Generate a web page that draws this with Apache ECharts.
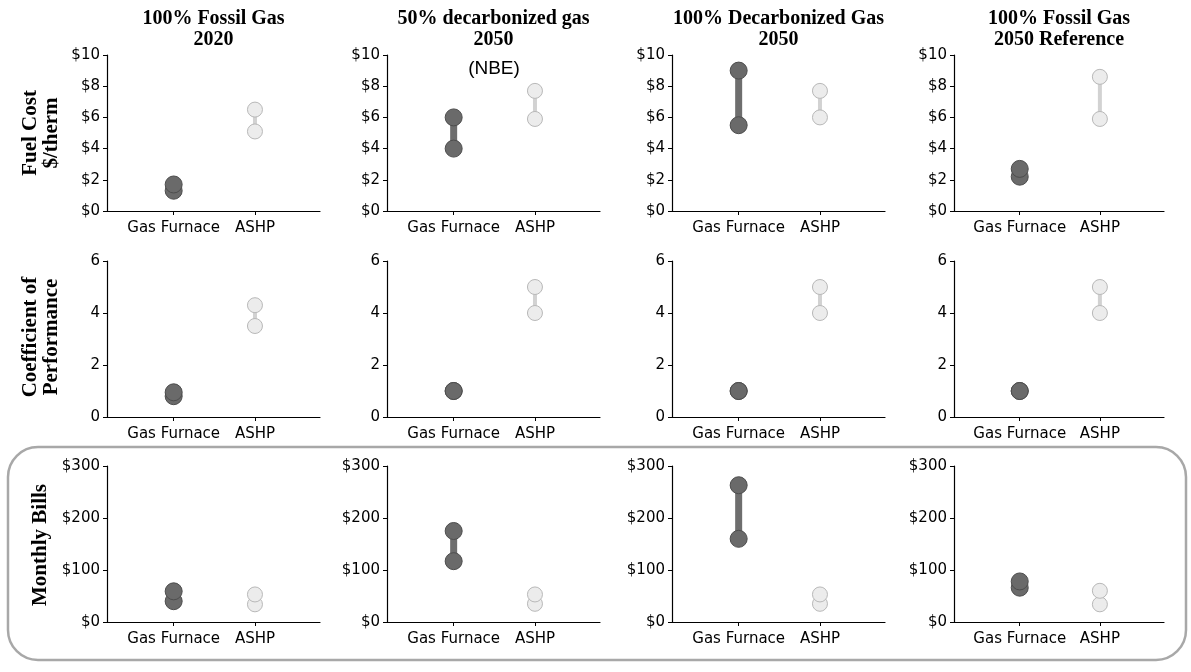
<!DOCTYPE html>
<html>
<head>
<meta charset="utf-8">
<script src="https://cdn.jsdelivr.net/npm/echarts@6/dist/echarts.min.js"></script>
<style>
html,body{margin:0;padding:0;background:#fff;}
#chart{width:1191px;height:672px;}
</style>
</head>
<body>
<div id="chart"></div>
<script>
// ---- data ----
var categories = ['Gas Furnace', 'ASHP'];
var scenarioTitles = ['100% Fossil Gas\n2020', '50% decarbonized gas\n2050', '100% Decarbonized Gas\n2050', '100% Fossil Gas\n2050 Reference'];
var rowLabels = ['Fuel Cost\n$/therm', 'Coefficient of\nPerformance', 'Monthly Bills'];

var fuelGasLow   = [1.3, 4.0, 5.5, 2.2];
var fuelGasHigh  = [1.7, 6.0, 9.0, 2.7];
var fuelAshpLow  = [5.1, 5.9, 6.0, 5.9];
var fuelAshpHigh = [6.5, 7.7, 7.7, 8.6];

var copGasLow   = [0.8, 1.0, 1.0, 1.0];
var copGasHigh  = [0.95, 1.0, 1.0, 1.0];
var copAshpLow  = [3.5, 4.0, 4.0, 4.0];
var copAshpHigh = [4.3, 5.0, 5.0, 5.0];

var billGasLow   = [40, 117, 160, 66];
var billGasHigh  = [59, 175, 263, 78];
var billAshpLow  = [34, 35, 35, 34];
var billAshpHigh = [53, 53, 53, 60];

var yMax = [10, 6, 300];
var yStep = [2, 2, 100];
var yPrefix = ['$', '', '$'];
var xTicks = [0, 1];

// ---- layout ----
var colLeft = [107, 387, 672, 954];
var colWidth = [213, 213, 213, 210];
var rowTop = [55, 261, 466];
var rowHeight = 156;

var rows = [
  [fuelGasLow, fuelGasHigh, fuelAshpLow, fuelAshpHigh],
  [copGasLow, copGasHigh, copAshpLow, copAshpHigh],
  [billGasLow, billGasHigh, billAshpLow, billAshpHigh]
];

var grids = [], xAxes = [], yAxes = [], series = [];
var labelFont = {fontFamily: 'DejaVu Sans', fontSize: 15, color: '#000'};

for (var r = 0; r < 3; r++) {
  for (var c = 0; c < 4; c++) {
    var gi = r * 4 + c;
    grids.push({left: colLeft[c], top: rowTop[r], width: colWidth[c], height: rowHeight, containLabel: false});
    xAxes.push({
      type: 'value', gridIndex: gi, min: -0.82, max: 1.8,
      axisLine: {show: true, onZero: false, lineStyle: {color: '#000', width: 1.2}},
      axisTick: {show: true, length: 4, customValues: xTicks, lineStyle: {color: '#000'}},
      axisLabel: Object.assign({customValues: xTicks, margin: 10, formatter: function (v) { return categories[Math.round(v)]; }}, labelFont),
      splitLine: {show: false}
    });
    (function (pref) {
      yAxes.push({
        type: 'value', gridIndex: gi, min: 0, max: yMax[r], interval: yStep[r],
        axisLine: {show: true, onZero: false, lineStyle: {color: '#000', width: 1.2}},
        axisTick: {show: true, length: 4, lineStyle: {color: '#000'}},
        axisLabel: Object.assign({margin: 7, formatter: function (v) { return pref + v; }}, labelFont),
        splitLine: {show: false}
      });
    })(yPrefix[r]);
    var d = rows[r];
    series.push({
      type: 'line', xAxisIndex: gi, yAxisIndex: gi, silent: true, animation: false,
      data: [[0, d[0][c]], [0, d[1][c]]],
      symbol: 'circle', symbolSize: 17,
      lineStyle: {color: '#6e6e6e', width: 7},
      itemStyle: {color: '#6a6a6a', borderColor: '#4d4d4d', borderWidth: 1}
    });
    series.push({
      type: 'line', xAxisIndex: gi, yAxisIndex: gi, silent: true, animation: false,
      data: [[1, d[2][c]], [1, d[3][c]]],
      symbol: 'circle', symbolSize: 15,
      lineStyle: {color: '#d2d2d2', width: 4},
      itemStyle: {color: '#ececec', borderColor: '#b8b8b8', borderWidth: 1}
    });
  }
}

var graphics = [];
// rounded border around the bills row
graphics.push({
  type: 'rect', z: -1, silent: true,
  shape: {x: 8, y: 447, width: 1178, height: 213, r: 30},
  style: {fill: 'none', stroke: '#a8a8a8', lineWidth: 2.5}
});
// column titles
for (var c2 = 0; c2 < 4; c2++) {
  graphics.push({
    type: 'text', silent: true,
    x: colLeft[c2] + colWidth[c2] / 2, y: 8,
    style: {text: scenarioTitles[c2], fontFamily: 'Liberation Serif', fontWeight: 'bold', fontSize: 20, lineHeight: 21, fill: '#000', align: 'center', verticalAlign: 'top'}
  });
}
graphics.push({
  type: 'text', silent: true, x: 494, y: 69,
  style: {text: '(NBE)', fontFamily: 'Liberation Sans', fontSize: 19, fill: '#000', align: 'center', verticalAlign: 'middle'}
});
// row labels
var rowLabelY = [133, 337, 545];
for (var r2 = 0; r2 < 3; r2++) {
  graphics.push({
    type: 'text', silent: true, x: 41, y: rowLabelY[r2], rotation: Math.PI / 2,
    style: {text: rowLabels[r2], fontFamily: 'Liberation Serif', fontWeight: 'bold', fontSize: 21, lineHeight: 21, fill: '#000', align: 'center', verticalAlign: 'middle'}
  });
}

var chart = echarts.init(document.getElementById('chart'), null, {renderer: 'canvas'});
chart.setOption({
  animation: false,
  backgroundColor: '#fff',
  grid: grids, xAxis: xAxes, yAxis: yAxes, series: series,
  graphic: graphics
});
</script>
</body>
</html>
